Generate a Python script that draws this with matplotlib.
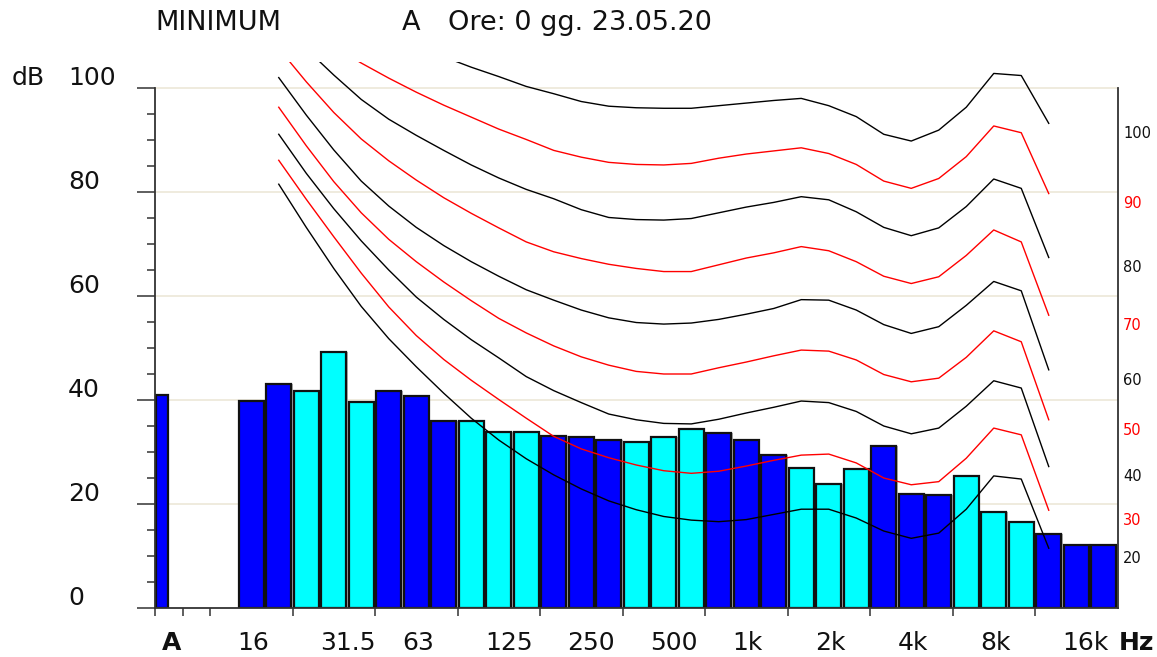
import numpy as np
import matplotlib
matplotlib.use("Agg")
import matplotlib.pyplot as plt
from matplotlib.transforms import blended_transform_factory

# ---------------- data ----------------
# third-octave bands 16 Hz .. 20 kHz (bar values, dB)
band_labels = ["16", "20", "25", "31.5", "40", "50", "63", "80", "100", "125", "160",
               "200", "250", "315", "400", "500", "630", "800", "1k", "1.25k", "1.6k",
               "2k", "2.5k", "3.15k", "4k", "5k", "6.3k", "8k", "10k", "12.5k", "16k", "20k"]
band_levels = [39.8, 43.1, 41.8, 49.2, 39.7, 41.8, 40.8, 36.0, 36.0, 33.9, 33.9,
               33.1, 32.9, 32.4, 31.9, 32.9, 34.5, 33.7, 32.4, 29.5, 26.9,
               23.8, 26.7, 31.2, 22.0, 21.8, 25.4, 18.5, 16.5, 14.2, 12.1, 12.1]
a_level = 41.0  # overall A-weighted level

# equal-loudness contours, 20 Hz .. 12.5 kHz (values above 105 dB are clipped)
phon_levels = [20, 30, 40, 50, 60, 70, 80, 90, 100]
contours = {
    20: [81.5, 73.2, 65.3, 58.0, 51.8, 46.4, 41.3, 36.5, 32.3, 28.7, 25.6, 22.9, 20.6, 18.9,
         17.6, 16.9, 16.6, 17.0, 18.0, 19.0, 19.0, 17.3, 14.8, 13.4, 14.4, 19.0, 25.4, 24.8, 11.5],
    30: [86.1, 78.6, 71.4, 64.4, 57.9, 52.4, 47.8, 43.8, 40.1, 36.5, 33.0, 30.6, 28.9, 27.5,
         26.4, 25.9, 26.3, 27.3, 28.4, 29.4, 29.6, 27.9, 25.0, 23.7, 24.3, 28.8, 34.6, 33.3, 18.8],
    40: [91.1, 83.6, 76.8, 70.6, 65.0, 59.8, 55.5, 51.6, 48.1, 44.5, 41.8, 39.5, 37.3, 36.2,
         35.5, 35.4, 36.3, 37.5, 38.6, 39.8, 39.5, 37.8, 35.0, 33.5, 34.6, 38.8, 43.7, 42.3, 27.2],
    50: [96.3, 88.9, 82.0, 76.0, 70.9, 66.6, 62.7, 59.1, 55.7, 52.9, 50.4, 48.3, 46.7, 45.5,
         45.0, 45.0, 46.2, 47.3, 48.5, 49.6, 49.4, 47.7, 44.9, 43.5, 44.2, 48.2, 53.3, 51.2, 36.2],
    60: [102.0, 94.8, 88.1, 82.1, 77.3, 73.2, 69.7, 66.6, 63.8, 61.2, 59.2, 57.3, 55.8, 54.9,
         54.6, 54.8, 55.5, 56.5, 57.6, 59.3, 59.2, 57.3, 54.5, 52.8, 54.1, 58.2, 62.8, 61.0, 45.8],
    70: [107.6, 101.2, 95.3, 90.2, 86.0, 82.3, 78.9, 75.9, 73.1, 70.4, 68.5, 67.2, 66.1, 65.3,
         64.7, 64.7, 66.0, 67.3, 68.3, 69.5, 68.7, 66.6, 63.8, 62.4, 63.7, 67.8, 72.7, 70.4, 56.3],
    80: [112.5, 107.5, 102.5, 97.8, 94.0, 90.9, 88.0, 85.2, 82.7, 80.5, 78.7, 76.6, 75.1, 74.7,
         74.6, 74.9, 76.0, 77.1, 78.0, 79.1, 78.5, 76.2, 73.2, 71.6, 73.1, 77.2, 82.5, 80.7, 67.4],
    90: [115.5, 113.5, 108.0, 104.8, 101.9, 99.2, 96.7, 94.4, 92.1, 90.1, 88.0, 86.7, 85.7, 85.3,
         85.2, 85.5, 86.5, 87.3, 87.9, 88.5, 87.4, 85.3, 82.1, 80.7, 82.6, 86.8, 92.7, 91.4, 79.7],
    100: [128.0, 123.0, 119.0, 115.0, 111.5, 108.5, 106.0, 104.0, 102.2, 100.3, 98.9, 97.4, 96.5, 96.2,
          96.1, 96.1, 96.6, 97.1, 97.6, 98.0, 96.6, 94.5, 91.1, 89.8, 91.9, 96.3, 102.8, 102.4, 93.2],
}

axis_labels = ["16", "31.5", "63", "125", "250", "500", "1k", "2k", "4k", "8k", "16k"]
y_tick_values = [0, 20, 40, 60, 80, 100]

# ---------------- layout ----------------
W, H = 1157, 657
fig = plt.figure(figsize=(W / 100, H / 100), dpi=100)
x_left, x_right = 155, 1117.5
y_bottom, y_top = 608, 62
ax = fig.add_axes([x_left / W, (H - y_bottom) / H, (x_right - x_left) / W, (y_bottom - y_top) / H])
ax.set_xlim(0, 35)
ax.set_ylim(0, 105)
ax.set_facecolor("white")

BLUE = "#0000FF"
CYAN = "#00FFFF"
first_slot = 3  # 16 Hz band slot

# grid lines
for gv in y_tick_values[1:]:
    ax.axhline(gv, color="#EEE9DB", lw=1.3, zorder=0.5)

# bars
slots = np.arange(len(band_levels)) + first_slot
colors = [BLUE if ((s - 5) // 3) % 2 == 1 else CYAN for s in slots]
ax.bar(slots + 0.5, band_levels, width=1.0, color="#b0b0b0", linewidth=0, zorder=1.8)
ax.bar(slots + 0.5, band_levels, width=0.91, color=colors, edgecolor="#111111",
       linewidth=1.6, zorder=2)
ax.bar([0.03], [a_level], width=0.44, align="edge", color=BLUE, edgecolor="#111111",
       linewidth=1.6, zorder=2)

# contours
cx = np.arange(len(contours[20])) + first_slot + 1 + 0.5  # 20 Hz .. 12.5 kHz
for p in phon_levels:
    col = "black" if (p // 10) % 2 == 0 else "#FF0000"
    ax.plot(cx, contours[p], color=col, lw=1.0, zorder=3, clip_on=True)

# spines
ax.spines["top"].set_visible(False)
ax.spines["left"].set_bounds(0, 100)
ax.spines["right"].set_bounds(0, 100)
for side in ["left", "right", "bottom"]:
    ax.spines[side].set_color("#333333")
    ax.spines[side].set_linewidth(1.3)

# ticks
ax.set_yticks(y_tick_values)
ax.set_yticks([v for v in range(0, 101, 5) if v % 20 != 0], minor=True)
ax.tick_params(axis="y", which="major", length=13, width=1.1, color="#333333",
               direction="out", labelleft=False)
ax.tick_params(axis="y", which="minor", length=5.8, width=1.1, color="#333333",
               direction="out")
ax.set_xticks([0, 1, 2] + list(range(5, 33, 3)))
ax.tick_params(axis="x", which="major", length=6, width=1.1, color="#333333",
               direction="out", labelbottom=False)

# y labels (left)
tr_y = blended_transform_factory(fig.transFigure, ax.transData)
for v in y_tick_values:
    ax.text(68 / W, v + 1.9, str(v), transform=tr_y, ha="left", va="center",
            fontsize=18, color="#111111")
ax.text(12 / W, 101.9, "dB", transform=tr_y, ha="left", va="center",
        fontsize=18, color="#111111")

# x labels
tr_x = blended_transform_factory(ax.transData, fig.transFigure)
ylab = (H - 643) / H
ax.text(0.62, ylab, "A", transform=tr_x, ha="center", va="center", fontsize=18,
        fontweight="bold", color="#111111")
for i, lab in enumerate(axis_labels):
    ax.text(first_slot + 3 * i, ylab, lab, transform=tr_x, ha="left", va="center",
            fontsize=18, color="#111111")
ax.text(35.05, ylab, "Hz", transform=tr_x, ha="left", va="center", fontsize=18,
        fontweight="bold", color="#111111")

# right labels (phon values)
for p in phon_levels:
    col = "#111111" if (p // 10) % 2 == 0 else "#FF0000"
    ax.text(35.2, contours[p][-1] - 2.0, str(p), ha="left", va="center",
            fontsize=10.5, color=col, clip_on=False)

# title
fig.text(155 / W, 1 - 23 / H, "MINIMUM", ha="left", va="center", fontsize=19.5, color="#111111")
fig.text(402 / W, 1 - 23 / H, "A", ha="left", va="center", fontsize=19.5, color="#111111")
fig.text(448 / W, 1 - 23 / H, "Ore: 0 gg. 23.05.20", ha="left", va="center", fontsize=19.5,
         color="#111111")

fig.savefig("out.png", dpi=100, facecolor="white")
